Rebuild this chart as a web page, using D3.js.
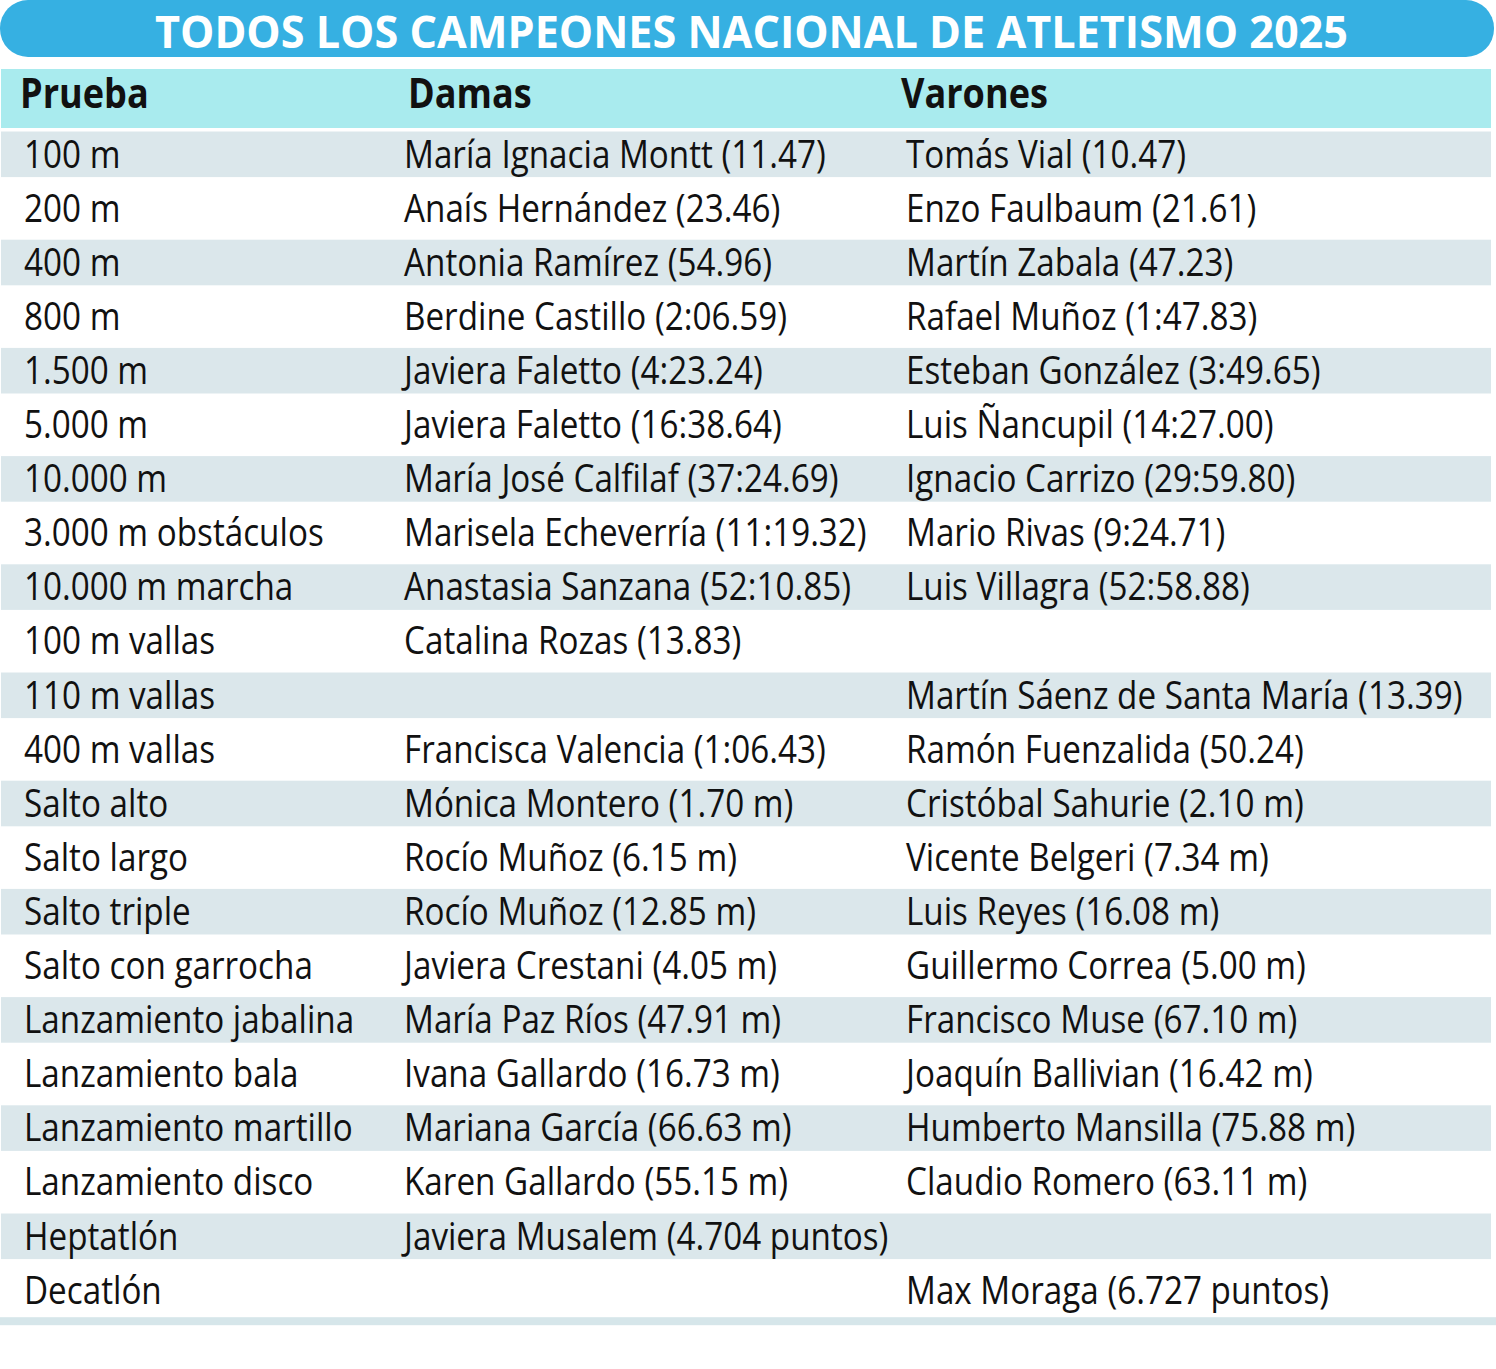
<!DOCTYPE html>
<html>
<head>
<meta charset="utf-8">
<script src="https://cdn.jsdelivr.net/npm/d3@7"></script>
<style>
  html, body { margin: 0; padding: 0; background: #fff; }
  svg { display: block; }
</style>
</head>
<body>
<svg id="chart"></svg>
<script>
// data
var title = "TODOS LOS CAMPEONES NACIONAL DE ATLETISMO 2025";
var headers = ["Prueba", "Damas", "Varones"];
var pruebas = ["100 m", "200 m", "400 m", "800 m", "1.500 m", "5.000 m", "10.000 m",
  "3.000 m obstáculos", "10.000 m marcha", "100 m vallas", "110 m vallas", "400 m vallas",
  "Salto alto", "Salto largo", "Salto triple", "Salto con garrocha", "Lanzamiento jabalina",
  "Lanzamiento bala", "Lanzamiento martillo", "Lanzamiento disco", "Heptatlón", "Decatlón"];
var damas = ["María Ignacia Montt (11.47)", "Anaís Hernández (23.46)", "Antonia Ramírez (54.96)",
  "Berdine Castillo (2:06.59)", "Javiera Faletto (4:23.24)", "Javiera Faletto (16:38.64)",
  "María José Calfilaf (37:24.69)", "Marisela Echeverría (11:19.32)", "Anastasia Sanzana (52:10.85)",
  "Catalina Rozas (13.83)", "", "Francisca Valencia (1:06.43)", "Mónica Montero (1.70 m)",
  "Rocío Muñoz (6.15 m)", "Rocío Muñoz (12.85 m)", "Javiera Crestani (4.05 m)",
  "María Paz Ríos (47.91 m)", "Ivana Gallardo (16.73 m)", "Mariana García (66.63 m)",
  "Karen Gallardo (55.15 m)", "Javiera Musalem (4.704 puntos)", ""];
var varones = ["Tomás Vial (10.47)", "Enzo Faulbaum (21.61)", "Martín Zabala (47.23)",
  "Rafael Muñoz (1:47.83)", "Esteban González (3:49.65)", "Luis Ñancupil (14:27.00)",
  "Ignacio Carrizo (29:59.80)", "Mario Rivas (9:24.71)", "Luis Villagra (52:58.88)", "",
  "Martín Sáenz de Santa María (13.39)", "Ramón Fuenzalida (50.24)", "Cristóbal Sahurie (2.10 m)",
  "Vicente Belgeri (7.34 m)", "Luis Reyes (16.08 m)", "Guillermo Correa (5.00 m)",
  "Francisco Muse (67.10 m)", "Joaquín Ballivian (16.42 m)", "Humberto Mansilla (75.88 m)",
  "Claudio Romero (63.11 m)", "", "Max Moraga (6.727 puntos)"];

var W = 1496, H = 1369;
var FONT = "'Open Sans', 'Noto Sans', sans-serif";

var svg = d3.select("#chart").attr("width", W).attr("height", H);

var rows = pruebas.map(function(p, i){ return {i: i, cells: [p, damas[i], varones[i]]}; });

var y = d3.scaleBand().domain(d3.range(rows.length)).range([128, 1318.2]);
var xCol = d3.scaleOrdinal().domain([0, 1, 2]).range([24, 404, 906]);
var xHead = d3.scaleOrdinal().domain([0, 1, 2]).range([20, 408, 901]);

// measure text width to get the condensed look of the original font
function measure(txt, size, weight){
  var t = svg.append("text").attr("font-family", FONT).attr("font-size", size)
    .attr("font-weight", weight).text(txt);
  var w = t.node().getComputedTextLength();
  t.remove();
  return w;
}
var bodySize = 38, headSize = 42;
var sxBody = 422 / measure("María Ignacia Montt (11.47)", bodySize, 400);
var sxHead = 147 / measure("Varones", headSize, 700);

// title bar
svg.append("rect").attr("x", 0).attr("y", 0).attr("width", 1494).attr("height", 57)
  .attr("rx", 28).attr("fill", "#36b0e2");
svg.append("text").attr("x", 155).attr("y", 48)
  .attr("font-family", FONT).attr("font-size", 45).attr("font-weight", 700)
  .attr("fill", "#fff").attr("textLength", 1193).attr("lengthAdjust", "spacingAndGlyphs")
  .text(title);

// header row
svg.append("rect").attr("x", 1).attr("y", 69).attr("width", 1490).attr("height", 59)
  .attr("fill", "#a9ebee");
svg.selectAll("text.head").data(headers).join("text").attr("class", "head")
  .attr("transform", function(d, i){ return "translate(" + xHead(i) + ",108) scale(" + sxHead + ",1)"; })
  .attr("font-family", FONT).attr("font-size", headSize).attr("font-weight", 700)
  .attr("fill", "#111").text(function(d){ return d; });

// stripes
svg.selectAll("rect.stripe").data(rows.filter(function(r){ return r.i % 2 === 0; }))
  .join("rect").attr("class", "stripe")
  .attr("x", 1).attr("width", 1490)
  .attr("y", function(d){ return y(d.i) + 3.5; })
  .attr("height", y.bandwidth() - 8.5)
  .attr("fill", "#dbe7eb");

// cells
var rowG = svg.selectAll("g.row").data(rows).join("g").attr("class", "row");
rowG.selectAll("text").data(function(d){ return d.cells.map(function(c, j){ return {c: c, j: j, i: d.i}; }); })
  .join("text")
  .attr("transform", function(d){
    return "translate(" + xCol(d.j) + "," + (y(d.i) + y.bandwidth() / 2 + 12.5) + ") scale(" + sxBody + ",1)";
  })
  .attr("font-family", FONT).attr("font-size", bodySize)
  .attr("fill", "#111").text(function(d){ return d.c; });

// bottom rule
svg.append("rect").attr("x", 0).attr("y", y.range()[1] - 1).attr("width", 1496).attr("height", 8)
  .attr("fill", "#d6e6ea");
</script>
</body>
</html>
